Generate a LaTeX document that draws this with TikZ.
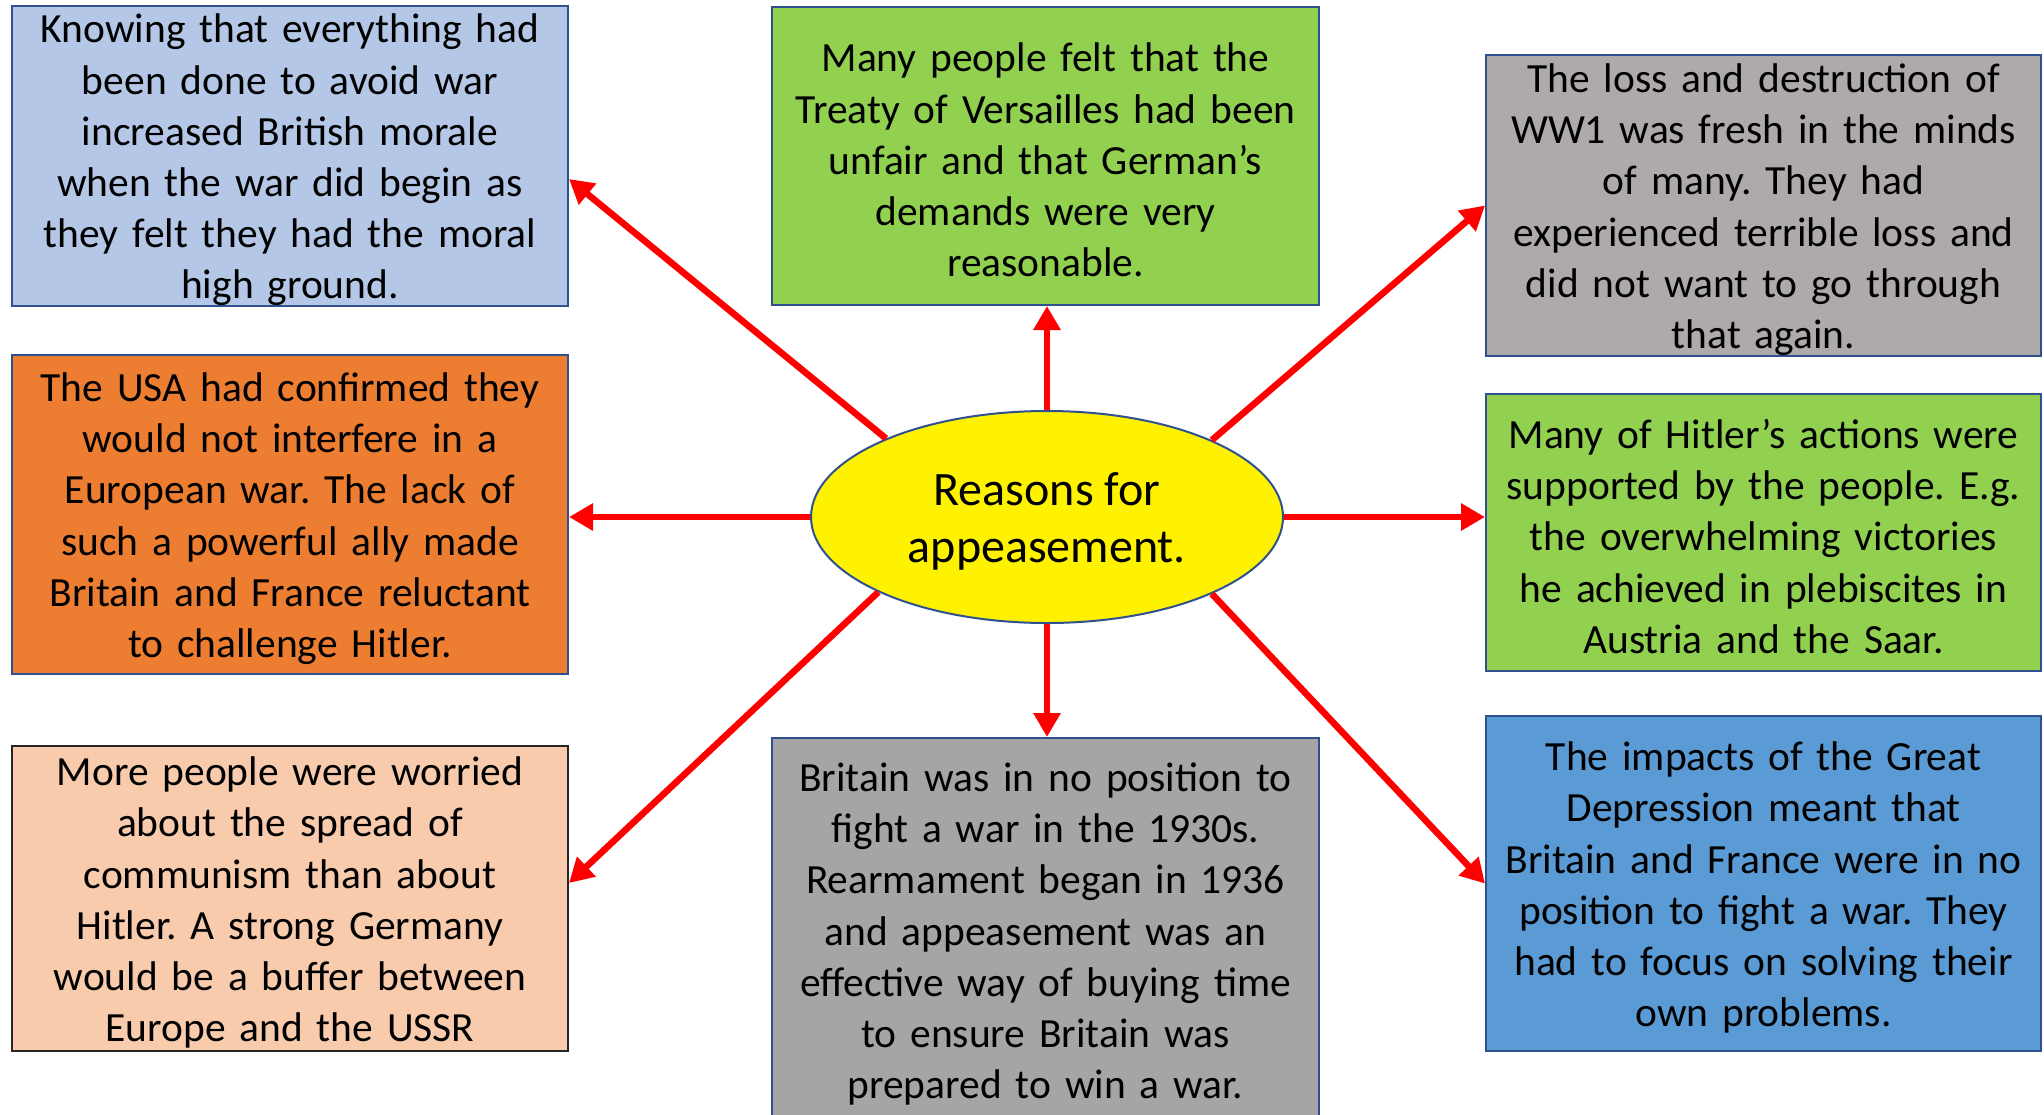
\documentclass[tikz,border=0pt]{standalone}
\usepackage{fontspec}
\setmainfont{Carlito}
\usetikzlibrary{shapes.geometric,arrows.meta,calc}
\definecolor{bord}{HTML}{2F528F}
\definecolor{lblue}{HTML}{B4C7E7}
\definecolor{lgreen}{HTML}{92D050}
\definecolor{gray1}{HTML}{AEAAAA}
\definecolor{gray2}{HTML}{A5A5A5}
\definecolor{orng}{HTML}{ED7D31}
\definecolor{peach}{HTML}{F8CBAD}
\definecolor{mblue}{HTML}{5B9BD5}
\definecolor{arrred}{HTML}{FF0000}
\frenchspacing
\begin{document}
\begin{tikzpicture}[x=0.5pt,y=-0.5pt,
  infobox/.style={draw=bord, line width=1pt, inner xsep=0pt, inner ysep=0pt,
    align=center, font=\fontsize{20.75pt}{25.6pt}\selectfont\frenchspacing,
    execute at begin node={\rule{0pt}{18.5pt}}},
  hub/.style={ellipse, draw=bord, line width=1pt, fill=yellow, inner sep=0pt,
    minimum width=236pt, minimum height=106pt, align=center,
    font=\fontsize{24pt}{28.7pt}\selectfont},
  arr/.style={draw=arrred, line width=3.3pt, -{Triangle[width=13pt,length=12pt]}}]
\useasboundingbox (0,0) rectangle (2044,1114);
\fill[white] (0,0) rectangle (2044,1114);

\node[infobox, fill=lblue, text width=278pt, minimum height=149pt] (tl) at (290,156)
  {Knowing that everything had\\been done to avoid war\\increased British morale\\when the war did begin as\\they felt they had the moral\\high ground.};
\node[infobox, fill=lgreen, text width=273.5pt, minimum height=149pt] (tc) at (1045.5,156)
  {Many people felt that the\\Treaty of Versailles had been\\unfair and that German’s\\demands were very\\reasonable.};
\node[infobox, fill=gray1, text width=277.5pt, minimum height=149.5pt] (tr) at (1763.5,205.5)
  {The loss and destruction of\\WW1 was fresh in the minds\\of many. They had\\experienced terrible loss and\\did not want to go through\\that again.};
\node[infobox, fill=orng, text width=278pt, minimum height=159.5pt] (ml) at (290,514.5)
  {The USA had confirmed they\\would not interfere in a\\European war. The lack of\\such a powerful ally made\\Britain and France reluctant\\to challenge Hitler.};
\node[infobox, fill=lgreen, text width=277.5pt, minimum height=138.5pt] (mr) at (1763.5,532.5)
  {Many of Hitler’s actions were\\supported by the people. E.g.\\the overwhelming victories\\he achieved in plebiscites in\\Austria and the Saar.};
\node[infobox, draw=black!85, fill=peach, text width=278pt, minimum height=152.5pt] (bl) at (290,898.5)
  {More people were worried\\about the spread of\\communism than about\\Hitler. A strong Germany\\would be a buffer between\\Europe and the USSR};
\node[infobox, fill=gray2, text width=273.5pt, minimum height=192pt] (bc) at (1045.5,930)
  {Britain was in no position to\\fight a war in the 1930s.\\Rearmament began in 1936\\and appeasement was an\\effective way of buying time\\to ensure Britain was\\prepared to win a war.};
\node[infobox, fill=mblue, text width=277.5pt, minimum height=167.5pt] (br) at (1763.5,883.5)
  {The impacts of the Great\\Depression meant that\\Britain and France were in no\\position to fight a war. They\\had to focus on solving their\\own problems.};

\node[hub] (c) at (1047,517) {\rule{0pt}{21pt}Reasons for\\appeasement.};

\draw[arr] (c.154.7) -- ([yshift=-11.5pt]tl.east);
\draw[arr] (c.north) -- (c.north |- tc.south);
\draw[arr] (c.25.3) -- (tr.west);
\draw[arr] (c.west) -- (c.west -| ml.east);
\draw[arr] (c.east) -- (c.east -| mr.west);
\draw[arr] (c.204.7) -- ([yshift=7.75pt]bl.east);
\draw[arr] (c.south) -- (c.south |- bc.north);
\draw[arr] (c.335.3) -- (br.west);
\end{tikzpicture}
\end{document}
